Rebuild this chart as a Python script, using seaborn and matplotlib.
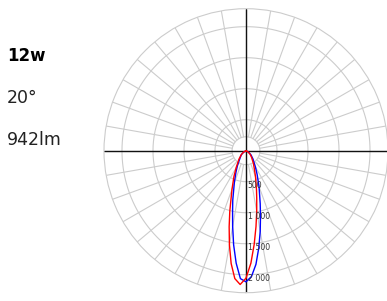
import numpy as np
import pandas as pd
import matplotlib
matplotlib.use("Agg")
import matplotlib.pyplot as plt
import seaborn as sns

# angles measured from nadir (deg), positive to the right
angles = [-90, -60, -50, -40, -30, -25, -20, -15, -12.5, -10, -7.5, -5, -2.5,
          0, 2.5, 5, 7.5, 10, 12.5, 15, 20, 25, 30, 40, 50, 60, 90]

# luminous intensity (cd) for the two planes
c0_c180 = [0, 40, 95, 145, 275, 385, 550, 825, 1000, 1240, 1530, 1820, 2065,
           2115, 2030, 1840, 1580, 1320, 1080, 885, 615, 425, 305, 175, 105, 45, 0]
c90_c270 = [0, 45, 100, 175, 320, 460, 660, 1010, 1255, 1540, 1835, 2070, 2160,
            2055, 1815, 1515, 1235, 995, 800, 655, 450, 315, 240, 140, 85, 35, 0]

ring_values = [500, 1000, 1500, 2000]
ring_labels = ["500", "1 000", "1 500", "2 000"]
r_max = 2290
r_inner = 225

power_label = "12w"
beam_label = "20°"
flux_label = "942lm"

df = pd.concat([
    pd.DataFrame({"theta": np.radians(angles), "cd": c0_c180, "plane": "C0-C180"}),
    pd.DataFrame({"theta": np.radians(angles), "cd": c90_c270, "plane": "C90-C270"}),
])

sns.set_theme(style="white")
plt.rcParams["font.family"] = ["DejaVu Sans"]

fig = plt.figure(figsize=(3.87, 3.01), dpi=100)
ax = fig.add_axes([104 / 387, 8.3 / 301, 284 / 387, 284 / 301], projection="polar")
ax.set_theta_zero_location("S")
ax.set_theta_direction(1)
ax.set_ylim(0, r_max)
ax.grid(False)
ax.set_xticks([])
ax.set_yticks([])
ax.spines["polar"].set_color("#cccccc")
ax.spines["polar"].set_linewidth(0.8)

grid_col = "#cccccc"
full = np.linspace(0, 2 * np.pi, 361)
for r in [r_inner] + ring_values:
    ax.plot(full, np.full_like(full, r), color=grid_col, lw=0.8, zorder=1)
for a in range(0, 360, 10):
    t = np.radians(a)
    ax.plot([t, t], [r_inner, r_max], color=grid_col, lw=0.8, zorder=1)

# black cross through the centre
for a in [0, 90, 180, 270]:
    t = np.radians(a)
    ax.plot([t, t], [0, r_max], color="#111111", lw=1.0, zorder=2)

sns.lineplot(data=df, x="theta", y="cd", hue="plane",
             palette={"C0-C180": "#0000ff", "C90-C270": "#ff0000"},
             lw=1.0, legend=False, ax=ax, zorder=3)
ax.set_xlabel("")
ax.set_ylabel("")
ax.set_ylim(0, r_max)

for r, lab in zip(ring_values, ring_labels):
    ax.annotate(lab, xy=(0, r), xytext=(1.5, -4), textcoords="offset pixels",
                ha="left", va="center", fontsize=5.6, color="#333333", zorder=4)

fig.text(0.018, 1 - 60.7 / 301, power_label, fontsize=12, fontweight="bold",
         color="black", va="baseline", ha="left")
fig.text(0.018, 1 - 102.7 / 301, beam_label, fontsize=12.5,
         color="#222222", va="baseline", ha="left")
fig.text(0.018, 1 - 145 / 301, flux_label, fontsize=12.5,
         color="#222222", va="baseline", ha="left")

fig.savefig("out.png", dpi=100)
